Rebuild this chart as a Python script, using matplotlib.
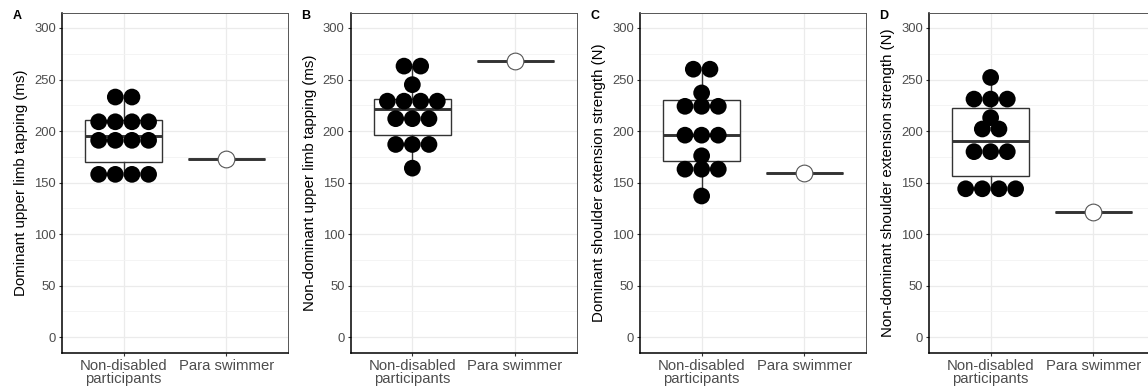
import numpy as np
import matplotlib
matplotlib.use("Agg")
import matplotlib.pyplot as plt
from matplotlib.ticker import MultipleLocator

plt.rcParams['font.family'] = ['Liberation Sans', 'DejaVu Sans']

groups = ['Non-disabled\nparticipants', 'Para swimmer']
letters = ['A', 'B', 'C', 'D']
ylabels = ['Dominant upper limb tapping (ms)',
           'Non-dominant upper limb tapping (ms)',
           'Dominant shoulder extension strength (N)',
           'Non-dominant shoulder extension strength (N)']

# dot rows (binned values) and how many dots sit in each row
A_rows = [233, 209, 191, 158]
A_counts = [2, 4, 4, 4]
B_rows = [263, 245, 229, 212, 187, 164]
B_counts = [2, 1, 4, 3, 3, 1]
C_rows = [260, 237, 224, 196, 176, 163, 137]
C_counts = [2, 1, 3, 3, 1, 3, 1]
D_rows = [252, 231, 213, 202, 180, 144]
D_counts = [1, 3, 1, 2, 3, 4]

# box stats for the non-disabled group: whislo, q1, median, q3, whishi
A_box = [158, 170, 195, 211, 233]
B_box = [164, 196, 221, 231, 263]
C_box = [137, 171, 196, 230, 260]
D_box = [144, 156, 190, 222, 252]

# para swimmer single values
para = [173, 268, 159, 121]

rows_all = [A_rows, B_rows, C_rows, D_rows]
counts_all = [A_counts, B_counts, C_counts, D_counts]
boxes = [A_box, B_box, C_box, D_box]

W, H = 1148, 390
fig = plt.figure(figsize=(W / 100, H / 100), dpi=100)

lefts = [62, 350.7, 640, 929]
ax_w = 226
ax_top, ax_bot = 12.5, 352.7
dot_step = 0.162  # horizontal spacing of stacked dots, in x units
dot_s = 145

for i in range(4):
    ax = fig.add_axes([lefts[i] / W, (H - ax_bot) / H, ax_w / W, (ax_bot - ax_top) / H])
    b = boxes[i]
    st = [dict(whislo=b[0], q1=b[1], med=b[2], q3=b[3], whishi=b[4]),
          dict(whislo=para[i], q1=para[i], med=para[i], q3=para[i], whishi=para[i])]
    ax.bxp(st, positions=[1, 2], widths=0.75, showfliers=False, showcaps=False,
           patch_artist=True,
           boxprops=dict(facecolor='white', edgecolor='#333333', linewidth=1.0),
           whiskerprops=dict(color='#333333', linewidth=1.0),
           medianprops=dict(color='#333333', linewidth=2.1, solid_capstyle='butt'),
           zorder=2)

    xs, ys = [], []
    for v, n in zip(rows_all[i], counts_all[i]):
        for k in range(n):
            xs.append(1 + (k - (n - 1) / 2) * dot_step)
            ys.append(v)
    ax.scatter(xs, ys, s=dot_s, color='black', edgecolors='none', zorder=3)
    ax.scatter([2], [para[i]], s=dot_s, facecolor='white', edgecolors='#555555',
               linewidths=0.8, zorder=4)

    ax.set_xlim(0.4, 2.6)
    ax.set_ylim(-15, 315)
    ax.set_xticks([1, 2])
    ax.set_xticklabels(groups, linespacing=0.88, fontsize=10.7)
    ax.yaxis.set_major_locator(MultipleLocator(50))
    ax.yaxis.set_minor_locator(MultipleLocator(25))
    ax.set_axisbelow(True)
    ax.grid(True, which='major', color='#EBEBEB', linewidth=0.9)
    ax.grid(True, which='minor', axis='y', color='#F3F3F3', linewidth=0.6)
    ax.tick_params(axis='both', which='major', length=2.5, width=0.8, color='#333333',
                   labelcolor='#4D4D4D', pad=2)
    ax.tick_params(axis='y', which='major', labelsize=9.4)
    ax.tick_params(axis='y', which='minor', length=0)
    ax.set_ylabel(ylabels[i], fontsize=10.8, color='black', labelpad=4)

    for side in ['left', 'bottom']:
        ax.spines[side].set_color('black')
        ax.spines[side].set_linewidth(1.1)
    for side in ['top', 'right']:
        ax.spines[side].set_color('#555555')
        ax.spines[side].set_linewidth(0.7)

    fig.text((lefts[i] - 45) / W, 1 - 16 / H, letters[i], fontsize=9,
             fontweight='bold', ha='center', va='center')

fig.savefig('out.png', dpi=100)
